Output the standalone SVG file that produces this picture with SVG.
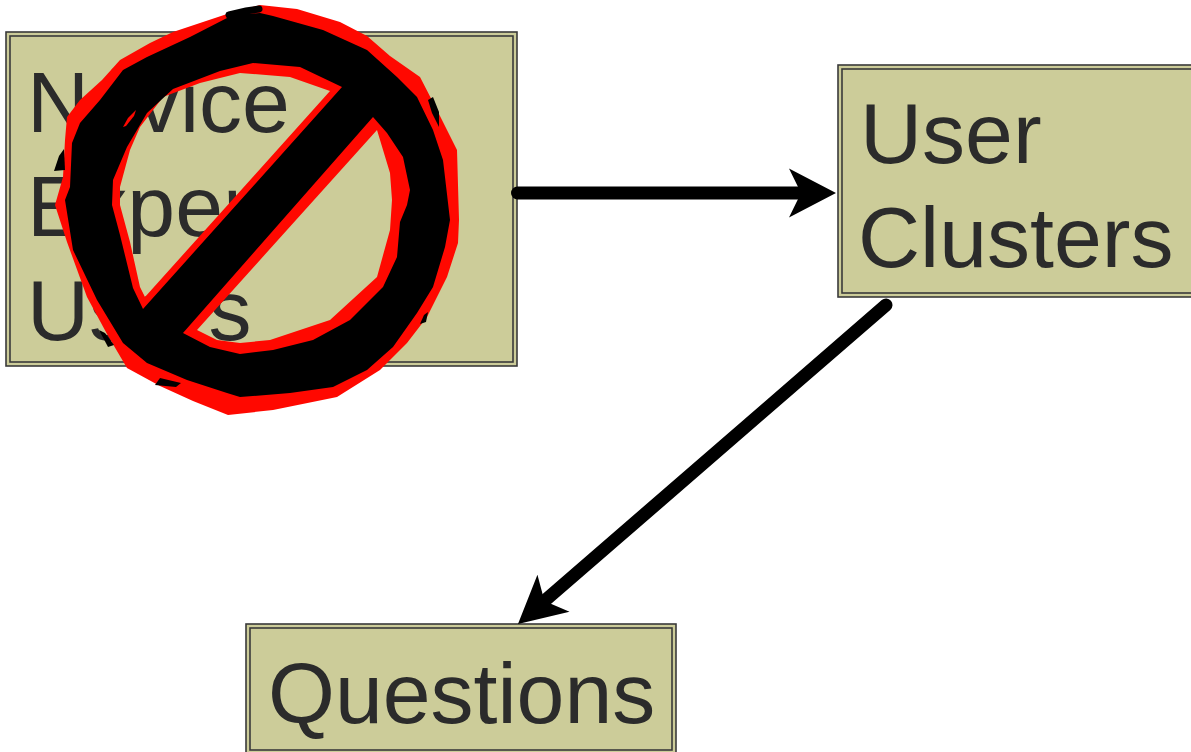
<svg xmlns="http://www.w3.org/2000/svg" width="1191" height="752" viewBox="0 0 1191 752">
<style>
.box-outer{fill:#cccc99;stroke:#3a3a3a;stroke-width:1.6}
.box-inner{fill:none;stroke:#3a3a3a;stroke-width:1.6}
.label{font-family:"Liberation Sans",Arial,sans-serif;font-size:86px;fill:#2b2b2b}
.conn{fill:none;stroke:#000;stroke-width:13;stroke-linecap:round}
.red{fill:#ff0800;fill-rule:evenodd}
.ink{fill:#000;fill-rule:evenodd}
.stroke-ink{fill:none;stroke:#000;stroke-linecap:round}
</style>
<defs>
<marker id="head" markerUnits="userSpaceOnUse" orient="auto" refX="0" refY="0" markerWidth="60" markerHeight="60" overflow="visible">
<path d="M31,0 L-16,-24.5 L-4,0 L-16,24.5 Z" fill="#000"/>
</marker>
</defs>
<rect width="1191" height="752" fill="#ffffff"/>
<g id="node-novice">
<rect class="box-outer" x="6" y="32" width="511" height="334"/>
<rect class="box-inner" x="10" y="36" width="503" height="326"/>
<text class="label" x="27" y="132">Novice</text>
<text class="label" x="27" y="236">Expert</text>
<text class="label" x="27" y="340">Users</text>
</g>
<g id="node-clusters">
<rect class="box-outer" x="838" y="65" width="420" height="232"/>
<rect class="box-inner" x="842" y="69" width="412" height="224"/>
<text class="label" x="860" y="163">User</text>
<text class="label" x="858" y="267">Clusters</text>
</g>
<g id="node-questions">
<rect class="box-outer" x="246" y="624" width="430" height="130"/>
<rect class="box-inner" x="250" y="628" width="422" height="122"/>
<text class="label" x="268" y="723">Questions</text>
</g>
<g id="connectors">
<path class="conn" d="M517.5,193 L805,193" marker-end="url(#head)"/>
<path class="conn" d="M886,305 L541.4,603.7" marker-end="url(#head)"/>
</g>
<g id="prohibition-sign">
<path class="red" d="M260,5 L297,9 L340,22 L367,36 L390,56 L420,77 L437,110 L457,150 L459,220 L458,243 L447,277 L427,317 L407,343 L380,370 L337,397 L273,410 L228,415 L193,401 L160,386 L127,368 L107,334 L87,297 L67,242 L55,205 L63,177 L65,140 L67,117 L80,100 L102,80 L120,60 L150,43 L173,32 L227,14 Z M330,91 L290,77 L240,73 L200,83 L163,97 L140,127 L130,150 L120,187 L120,205 L130,242 L140,287 L145,297 Z M377,130 L390,173 L392,200 L390,230 L377,277 L330,320 L270,340 L240,343 L217,340 L197,330 Z"/>
<path class="ink" d="M227,18 L245,14 L260,13 L273,16 L323,30 L367,50 L397,77 L417,97 L433,130 L443,160 L450,220 L445,247 L433,287 L417,313 L393,347 L367,370 L333,387 L290,393 L240,397 L227,393 L187,380 L147,363 L123,343 L97,300 L73,250 L65,200 L70,187 L72,143 L80,123 L100,100 L123,70 L147,57 L190,37 Z M342,87 L300,67 L253,63 L220,71 L173,89 L147,113 L127,147 L113,180 L112,205 L120,235 L133,288 L143,309 Z M373,117 L387,133 L403,157 L410,190 L407,205 L400,222 L397,257 L383,287 L350,320 L313,340 L273,350 L240,354 L210,347 L183,333 Z"/>
<path class="stroke-ink" d="M229,15 L246,11 L259,9" stroke-width="7"/>
<path class="ink" d="M54,171 L59,156 L64,149 L65,170 Z"/>
<path class="ink" d="M99,330 L105,333 L114,345 L108,347 Z"/>
<path class="ink" d="M155,385 L160,378 L181,383 L176,387 Z"/>
<path class="ink" d="M428,100 L433,97 L439,112 L439,127 L432,113 Z"/>
<path class="ink" d="M420,324 L424,315 L428,312 L426,322 Z"/>
<path class="ink" d="M404,240 L407,240 L406,262 L403,258 Z"/>
<path class="red" d="M123,127 L128,118 L136,110 L134,116 L126,126 Z"/>
<path d="M106,80 L113,70 L120,67 L118,73 L110,81 Z" fill="none" stroke="#ff0800" stroke-width="2.5"/>
</g>
</svg>
